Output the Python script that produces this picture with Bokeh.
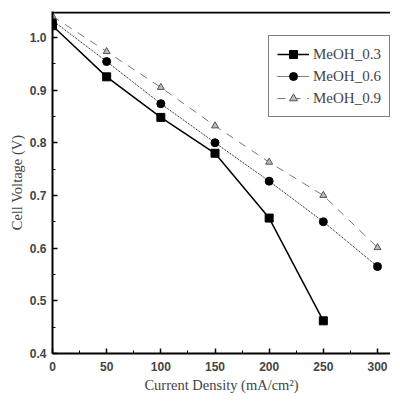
from bokeh.plotting import figure
from bokeh.models import Range1d, Legend, LegendItem, Span, SingleIntervalTicker, NumeralTickFormatter
from bokeh.embed import file_html
from bokeh.resources import INLINE

current = [0, 50, 100, 150, 200, 250, 300]
meoh_03_x = [0, 50, 100, 150, 200, 250]
meoh_03 = [1.022, 0.925, 0.848, 0.780, 0.657, 0.462]
meoh_06 = [1.032, 0.954, 0.874, 0.800, 0.727, 0.650, 0.565]
meoh_09 = [1.040, 0.973, 0.905, 0.832, 0.763, 0.700, 0.601]

p = figure(width=390, height=396, output_backend="svg", toolbar_location=None,
           x_range=Range1d(0, 312), y_range=Range1d(0.4, 1.049),
           min_border_left=52, min_border_right=0, min_border_top=11, min_border_bottom=43)
p.grid.visible = False
p.outline_line_color = None
p.background_fill_color = "white"

for ax in (p.xaxis[0], p.yaxis[0]):
    ax.axis_line_width = 2
    ax.axis_line_color = "black"
    ax.major_tick_in = 5
    ax.major_tick_out = 0
    ax.minor_tick_in = 3
    ax.minor_tick_out = 0
    ax.major_tick_line_width = 1.5
    ax.major_label_text_font = "Liberation Sans"
    ax.major_label_text_font_style = "bold"
    ax.major_label_text_font_size = "12px"
    ax.axis_label_text_font = "Liberation Serif"
    ax.axis_label_text_font_style = "normal"
    ax.axis_label_text_font_size = "14.5px"

p.xaxis.ticker = SingleIntervalTicker(interval=50, num_minor_ticks=2)
p.yaxis.ticker = SingleIntervalTicker(interval=0.1, num_minor_ticks=2)
p.yaxis.formatter = NumeralTickFormatter(format="0.0")
p.xaxis.axis_label = "Current Density (mA/cm²)"
p.yaxis.axis_label = "Cell Voltage (V)"
p.xaxis.major_label_standoff = 8
p.yaxis.major_label_standoff = 6
p.xaxis.axis_label_standoff = 3
p.yaxis.axis_label_standoff = 2

top = Span(location=1.047, dimension="width", line_color="black", line_width=2)
p.add_layout(top)

l3 = p.line(meoh_03_x, meoh_03, line_color="black", line_width=1.5)
m3 = p.scatter(meoh_03_x, meoh_03, marker="square", size=8, fill_color="black", line_color="black")
l6 = p.line(current, meoh_06, line_color="black", line_width=1, line_dash="1 1")
m6 = p.scatter(current, meoh_06, marker="circle", size=8, fill_color="black", line_color="black")
l9 = p.line(current, meoh_09, line_color="#777777", line_width=1, line_dash="8 7")
m9 = p.scatter(current, meoh_09, marker="triangle", size=7, fill_color="#bbbbbb", line_color="#555555")

legend = Legend(items=[
    LegendItem(label="MeOH_0.3", renderers=[l3, m3]),
    LegendItem(label="MeOH_0.6", renderers=[l6, m6]),
    LegendItem(label="MeOH_0.9", renderers=[l9, m9]),
])
legend.label_text_font = "Liberation Serif"
legend.label_text_font_size = "15px"
legend.glyph_width = 32
legend.glyph_height = 20
legend.label_height = 20
legend.spacing = 2
legend.padding = 8
legend.margin = 0
legend.label_standoff = 4
legend.border_line_color = "black"
legend.border_line_width = 1.5
legend.background_fill_alpha = 1
legend.location = (216, 236)
p.add_layout(legend, "center")

open("out.html", "w").write(file_html(p, INLINE))
